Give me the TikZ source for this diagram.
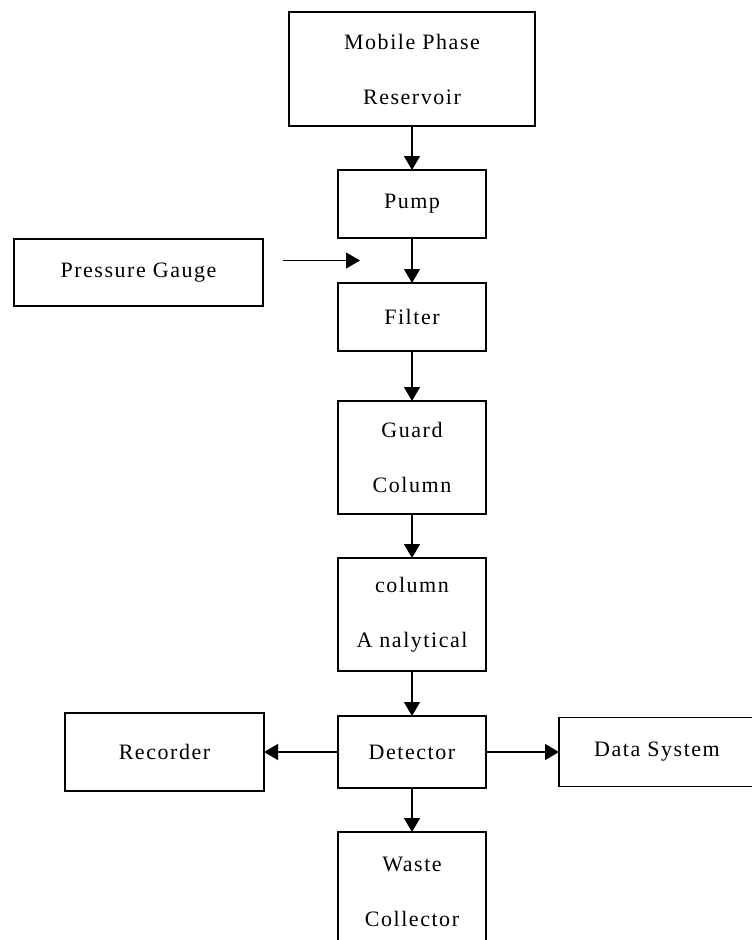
\documentclass[tikz,border=0pt]{standalone}
\usepackage{fontspec}
\setmainfont{Liberation Serif}[LetterSpace=7]
\usetikzlibrary{arrows.meta,positioning}

\begin{document}
\begin{tikzpicture}[->,>={Triangle[length=14pt,width=16pt]},line width=1.3pt,
                    node distance=45pt,
                    font=\fontsize{22}{55}\selectfont]
  \tikzstyle{unit}=[draw=black,fill=white,align=center,inner sep=0pt,outer sep=0pt,line width=1.6pt]
  \tikzstyle{wide}=[unit,minimum width=148pt]

  \useasboundingbox (0pt,0pt) rectangle (752pt,-940pt);

  \node[unit,minimum width=246pt,minimum height=114pt] (reservoir) at (412pt,-69pt) {Mobile Phase\\Reservoir};
  \node[wide,minimum height=68pt]  (pump)       [below=44pt of reservoir]  {Pump};
  \node[wide,minimum height=68pt]  (filter)     [below=45pt of pump]       {Filter};
  \node[wide,minimum height=113pt] (guard)      [below=50pt of filter]     {Guard\\Column};
  \node[wide,minimum height=113pt] (analytical) [below=44pt of guard]      {column\\A nalytical};
  \node[wide,minimum height=72pt]  (detector)   [below=45pt of analytical] {Detector};
  \node[wide,minimum height=120pt] (waste)      [below=44pt of detector]   {Waste\\Collector};
  \node[unit,minimum width=199pt,minimum height=78pt] (recorder) [left=74pt of detector]  {Recorder};
  \node[unit,minimum width=196pt,minimum height=69pt] (datasys)  [right=73pt of detector] {Data System};
  \node[unit,minimum width=249pt,minimum height=67pt] (gauge) at (138.5pt,-272.5pt) {Pressure Gauge};

  \coordinate[below left=22.5pt and 52pt of pump.south] (inlet);

  \path (reservoir)  edge (pump)
        (pump)       edge (filter)
        (filter)     edge (guard)
        (guard)      edge (analytical)
        (analytical) edge (detector)
        (detector)   edge (recorder)
                     edge (datasys)
                     edge (waste);
  \draw[shorten <=20pt] (gauge.east |- inlet) -- (inlet);
\end{tikzpicture}
\end{document}
